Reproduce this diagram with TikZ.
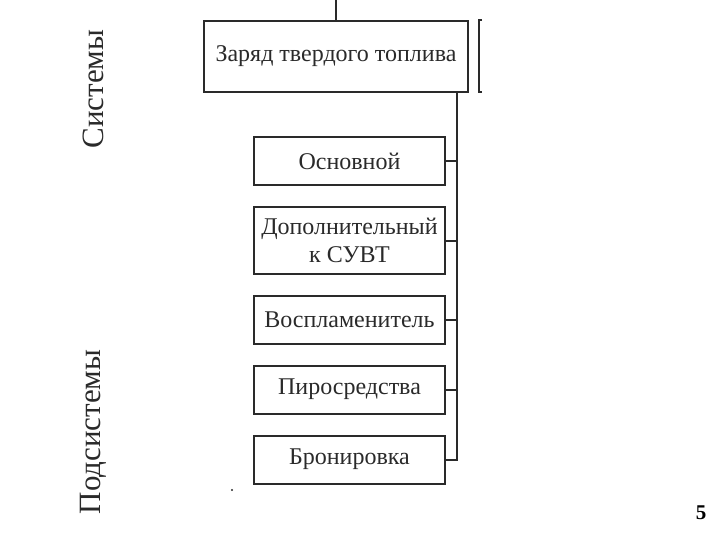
\documentclass[tikz,border=0pt]{standalone}
\usepackage{fontspec}
\setmainfont{Liberation Serif}
\usepackage{xcolor}
\usetikzlibrary{positioning}
\definecolor{inkgray}{HTML}{2A2A2A}

\begin{document}
\begin{tikzpicture}[
  x=1pt, y=1pt,
  node distance=20pt,
  block/.style={rectangle, draw=inkgray, line width=2pt, align=center, text=inkgray,
    minimum width=191pt, minimum height=48pt, inner sep=2pt, font=\fontsize{24}{28}\selectfont},
  topblock/.style={block, minimum width=264pt, minimum height=71pt},
  link/.style={draw=inkgray, line width=2pt},
  side/.style={rotate=90, text=inkgray, font=\fontsize{31}{34}\selectfont}
]
\useasboundingbox (0,0) rectangle (720,-540);

\node[topblock] (charge) at (336,-56.5) {Заряд твердого топлива};
\node[block] (main) at (349.5,-161.5) {Основной};
\node[block, below=of main, minimum height=66pt] (extra) {Дополнительный\\к СУВТ};
\node[block, below=of extra] (igniter) {Воспламенитель};
\node[block, below=of igniter] (pyro) {Пиросредства};
\node[block, below=of pyro] (armor) {Бронировка};

\node[side] (sys) at (93,-89) {Системы};
\node[side] (subsys) at (93,-432) {Подсистемы};
\node[font=\bfseries\fontsize{21}{24}\selectfont] (page) at (701,-513) {5};

\coordinate (feed) at (336,0);
\coordinate (trunk) at ([xshift=-12pt]charge.south east);

\draw[link] (feed) -- (charge.north);
\draw[link] (trunk) |- (armor.east);
\draw[link] (main.east) -- (main.east -| trunk);
\draw[link] (extra.east) -- (extra.east -| trunk);
\draw[link] (igniter.east) -- (igniter.east -| trunk);
\draw[link] (pyro.east) -- (pyro.east -| trunk);

% left edge of the next box, cut off by the slide
\draw[link] (482,-20) -- (479,-20) -- (479,-92) -- (482,-92);
\fill[inkgray] (232,-490) circle (1.2pt);
\end{tikzpicture}
\end{document}
